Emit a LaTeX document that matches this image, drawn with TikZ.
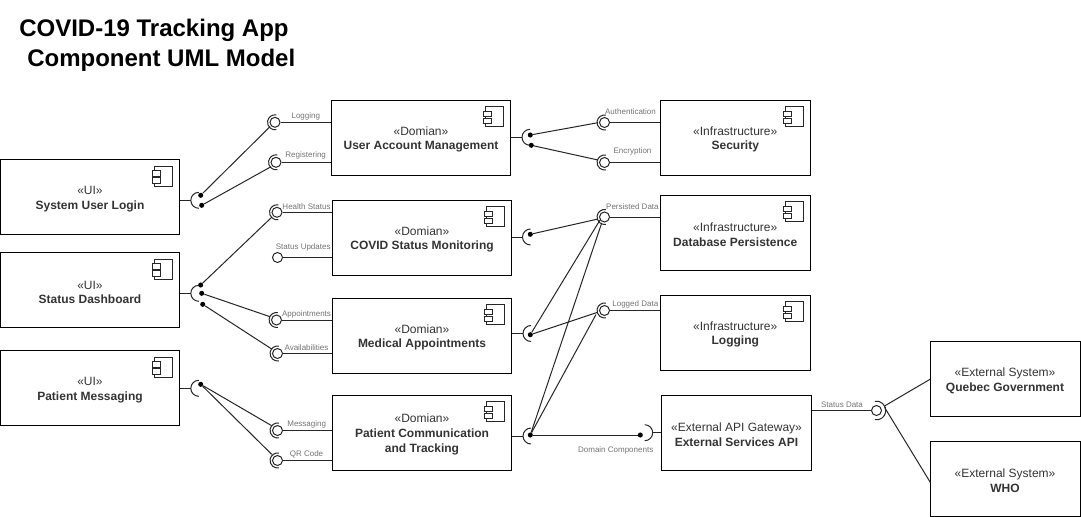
\documentclass[tikz,border=0pt]{standalone}
\usepackage{fontspec}
\setmainfont{Liberation Sans}
\tikzset{
  x=0.75pt,y=-0.75pt,
  line/.style={line width=0.75pt,draw=black!85},
  comp/.style={draw=black,line width=0.75pt,minimum width=#1*0.75pt,minimum height=56.25pt,inner sep=0pt,align=center,font=\fontsize{9}{11}\selectfont,text=black!80},
  comp/.default=150,
  dot/.style={circle,fill=black,draw=none,minimum size=3.8pt,inner sep=0pt},
  ball/.style={circle,line,draw=black!85,minimum size=7.5pt,inner sep=0pt},
  lab/.style={font=\fontsize{6}{7}\selectfont,text=black!55,inner sep=0pt},
  title/.style={font=\bfseries\fontsize{18}{20}\selectfont,inner sep=0pt,anchor=west,text=black},
}
\newcommand{\st}[1]{\rule{0pt}{9.6pt}#1}
\newcommand{\compicon}[1]{%
  \draw[line,fill=white,shift={(#1.north east)}] (-25.5,7) rectangle (-7.5,27);
  \draw[line,fill=white,shift={(#1.north east)}] (-27.5,11.5) rectangle (-20,17);
  \draw[line,fill=white,shift={(#1.north east)}] (-27.5,18.5) rectangle (-20,24);
}
\begin{document}
\begin{tikzpicture}
\useasboundingbox (0,0) rectangle (1081,517);
\node[title] (t1) at (19,30.5) {COVID-19 Tracking App};
\node[title] (t2) at (27,60) {Component UML Model};

% boxes
\node[comp=179.5] (login) at (90,197) {\st{«UI»}\\\textbf{System User Login}};
\node[comp=179.5] (dash) at (90,290) {\st{«UI»}\\\textbf{Status Dashboard}};
\node[comp=179.5] (msg) at (90,388) {\st{«UI»}\\\textbf{Patient Messaging}};
\node[comp=179.5] (uam) at (421,137.5) {\st{«Domian»}\\\textbf{User Account Management}};
\node[comp=179.5] (cov) at (422,237.5) {\st{«Domian»}\\\textbf{COVID Status Monitoring}};
\node[comp=179.5] (med) at (422,335.5) {\st{«Domian»}\\\textbf{Medical Appointments}};
\node[comp=179.5] (pat) at (422,432.5) {\st{«Domian»}\\\textbf{Patient Communication}\\\textbf{and Tracking}};
\node[comp=150.5] (sec) at (735.25,137.5) {\st{«Infrastructure»}\\\textbf{Security}};
\node[comp=150.5] (db) at (735.25,232.5) {\st{«Infrastructure»}\\\textbf{Database Persistence}};
\node[comp=150.5] (lg) at (735.25,332.5) {\st{«Infrastructure»}\\\textbf{Logging}};
\node[comp=150.5] (api) at (736.5,432.5) {\st{«External API Gateway»}\\\textbf{External Services API}};
\node[comp=150] (qc) at (1005,378.5) {\st{«External System»}\\\textbf{Quebec Government}};
\node[comp=150] (who) at (1005,478.5) {\st{«External System»}\\\textbf{WHO}};
\foreach \n in {login,dash,msg,uam,cov,med,pat,sec,db,lg}{\compicon{\n}}

% balls
\node[ball] (bLog) at (275,122.3) {};
\node[ball] (bReg) at (276,162.3) {};
\node[ball] (bHea) at (277,212.3) {};
\node[ball] (bUpd) at (277.5,257.5) {};
\node[ball] (bApp) at (276.5,320) {};
\node[ball] (bAva) at (277.5,353.5) {};
\node[ball] (bMsg) at (277.5,430.5) {};
\node[ball] (bQR) at (277.5,460.5) {};
\node[ball] (bAut) at (604.5,122.5) {};
\node[ball] (bEnc) at (604.5,162.5) {};
\node[ball] (bPer) at (604.5,217) {};
\node[ball] (bLgd) at (604.5,310.5) {};
\node[ball] (bSta) at (876.5,410.5) {};

% sockets around balls
\foreach \b in {bLog,bReg,bHea,bApp,bAva,bMsg,bQR,bAut,bEnc,bPer,bLgd}{
  \draw[line] (\b) ++(80:5.6pt) arc[start angle=80,end angle=280,radius=5.6pt];
}
\draw[line] (bSta) ++(-100:7pt) arc[start angle=-100,end angle=100,radius=7pt];

% socket dots
\node[dot] (dL1) at (200.7,195.3) {};
\node[dot] (dL2) at (201.7,205.3) {};
\node[dot] (dD1) at (200.7,285) {};
\node[dot] (dD2) at (201.7,293.3) {};
\node[dot] (dD3) at (202.7,304.3) {};
\node[dot] (dM) at (200.7,384.3) {};
\node[dot] (dU1) at (530.3,135) {};
\node[dot] (dU2) at (531.3,145.3) {};
\node[dot] (dC) at (530.3,234.3) {};
\node[dot] (dMd) at (530.3,334.7) {};
\node[dot] (dP) at (530.3,435) {};
\node[dot] (dA) at (640.3,435) {};

% left-facing sockets and stems
\coordinate (sL) at (190.8,200.3);
\coordinate (sD) at (190.8,293.3);
\coordinate (sM) at (190.8,388.3);
\coordinate (sU) at (522,137.3);
\coordinate (sC) at (522.5,237);
\coordinate (sMd) at (523,333.5);
\coordinate (sP) at (523,436);
\draw[line] (login.east|-sL) -- (sL);
\draw[line] (dash.east|-sD) -- (sD);
\draw[line] (msg.east|-sM) -- (sM);
\draw[line] (uam.east|-sU) -- (sU);
\draw[line] (cov.east|-sC) -- (sC);
\draw[line] (med.east|-sMd) -- (sMd);
\draw[line] (pat.east|-sP) -- (sP);
\foreach \c in {sL,sD,sM,sU,sC,sMd,sP}{
  \draw[line] (\c) ++(8,-8) arc[start angle=90,end angle=270,radius=6pt];
}
% right-facing socket at API
\coordinate (sA) at (652.7,432.7);
\draw[line] (sA) -- (api.west|-sA);
\draw[line] (sA) ++(-8,-8) arc[start angle=90,end angle=-90,radius=6pt];

% ball to component
\foreach \b/\c in {bLog/uam,bReg/uam,bHea/cov,bUpd/cov,bApp/med,bAva/med,bMsg/pat,bQR/pat,bAut/sec,bEnc/sec,bPer/db,bLgd/lg}{
  \draw[line] (\b.east) -- (\c.west|-\b);
}
\draw[line] (bSta.west) -- (api.east|-bSta);

% assembly ends
\coordinate (eLog) at (270,126.7);
\coordinate (eReg) at (271,166.7);
\coordinate (eHea) at (272,217);
\coordinate (eApp) at (270,316.7);
\coordinate (eAva) at (271.7,349);
\coordinate (eMsg) at (271.7,425.7);
\coordinate (eQR) at (271.7,454.3);
\coordinate (eAut) at (598,122.7);
\coordinate (eEnc) at (598,160);
\coordinate (ePer1) at (598,219);
\coordinate (ePer2) at (600,220);
\coordinate (ePer3) at (601.7,223);
\coordinate (eLgd1) at (597,312.5);
\coordinate (eLgd2) at (596,314.5);
\coordinate (eSt1) at (884.5,406);
\coordinate (eSt2) at (884.5,407.3);
\coordinate (eQc) at (930,379.3);
\coordinate (eWho) at (930.5,482.7);
\draw[line] (dL1) -- (eLog);
\draw[line] (dL2) -- (eReg);
\draw[line] (dD1) -- (eHea);
\draw[line] (dD2) -- (eApp);
\draw[line] (dD3) -- (eAva);
\draw[line] (dM) -- (eMsg);
\draw[line] (dM) -- (eQR);
\draw[line] (dU1) -- (eAut);
\draw[line] (dU2) -- (eEnc);
\draw[line] (dC) -- (ePer1);
\draw[line] (dMd) -- (ePer2);
\draw[line] (dP) -- (ePer3);
\draw[line] (dMd) -- (eLgd1);
\draw[line] (dP) -- (eLgd2);
\draw[line] (dP) -- (dA);
\draw[line] (eSt1) -- (eQc);
\draw[line] (eSt2) -- (eWho);

% labels
\node[lab] (l1) at (305.8,116) {Logging};
\node[lab] (l2) at (305.7,155.8) {Registering};
\node[lab] (l3) at (306.5,206.5) {Health Status};
\node[lab] (l4) at (303.2,247.8) {Status Updates};
\node[lab] (l5) at (306.5,314.8) {Appointments};
\node[lab] (l6) at (306.5,347.8) {Availabilities};
\node[lab] (l7) at (306.7,424.8) {Messaging};
\node[lab] (l8) at (306.5,454.8) {QR Code};
\node[lab] (l9) at (630.5,111.5) {Authentication};
\node[lab] (l10) at (632.5,151.8) {Encryption};
\node[lab] (l11) at (632.4,206.5) {Persisted Data};
\node[lab] (l12) at (635.3,304.8) {Logged Data};
\node[lab] (l13) at (615.7,450.8) {Domain Components};
\node[lab] (l14) at (842,405.2) {Status Data};
\end{tikzpicture}
\end{document}
